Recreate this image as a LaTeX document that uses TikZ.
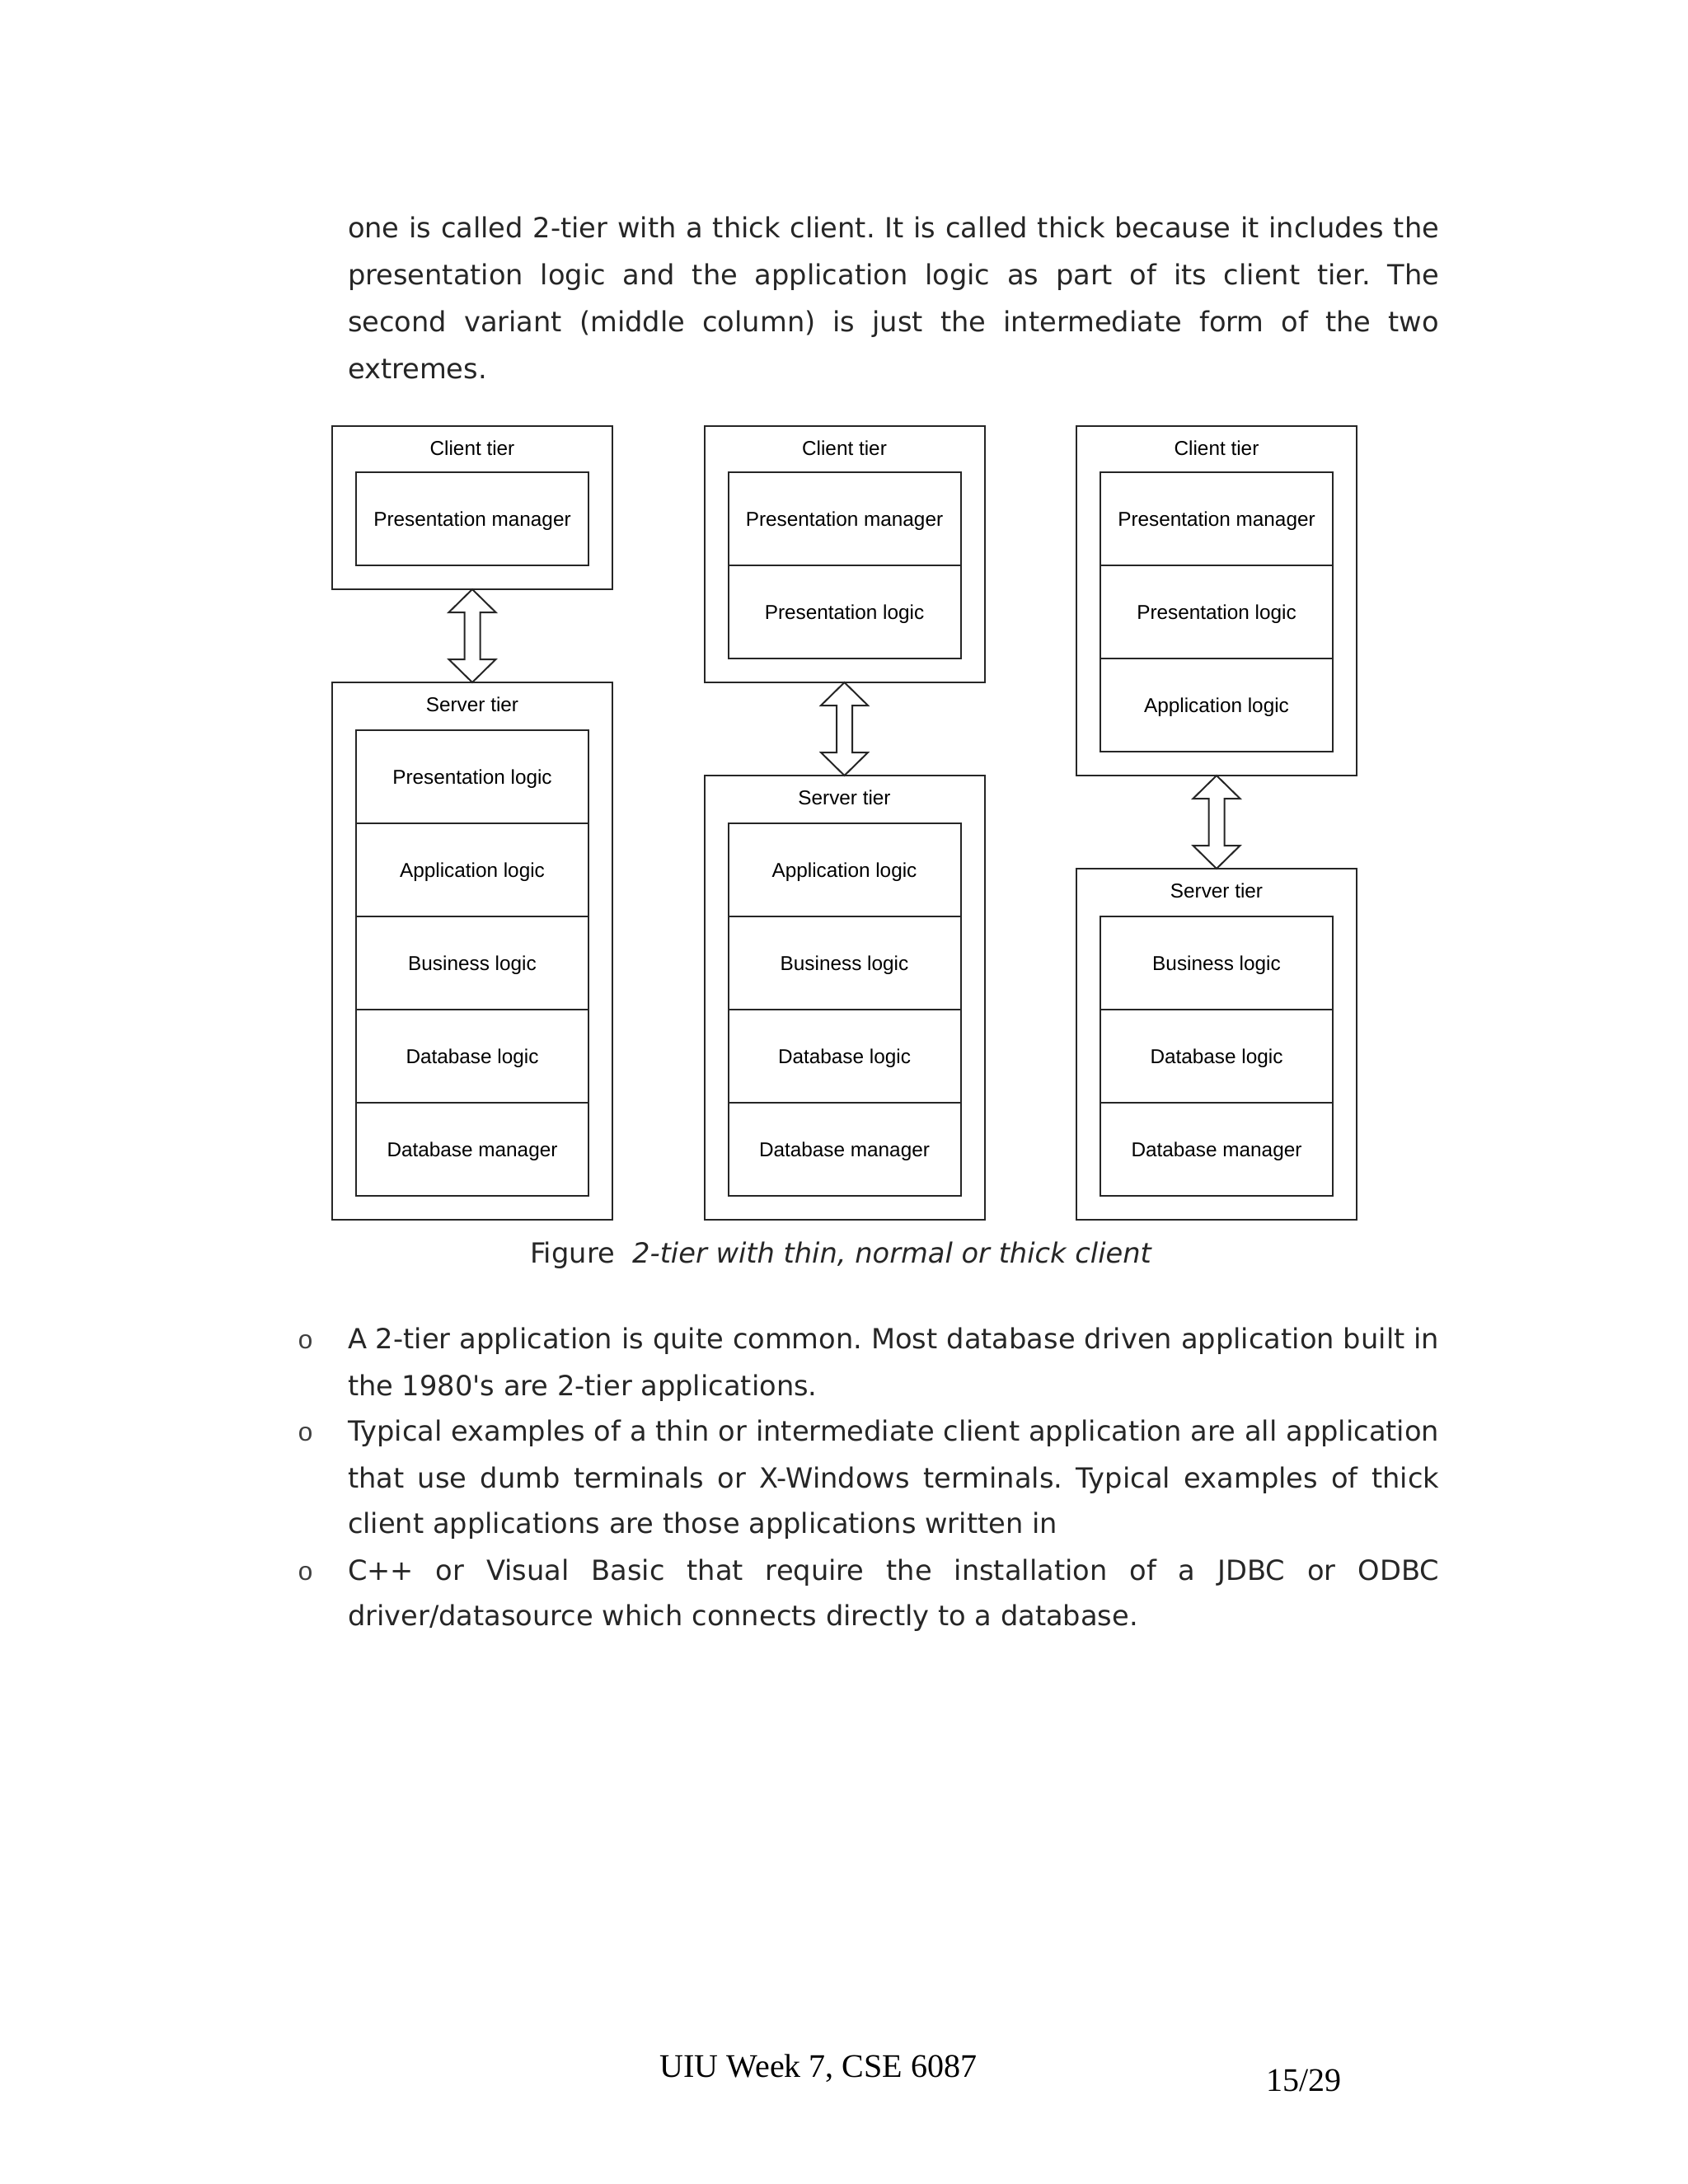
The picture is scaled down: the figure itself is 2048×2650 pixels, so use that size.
\documentclass[tikz,border=0pt]{standalone}
\usepackage{fontspec}
\setmainfont{DejaVu Sans}
\newfontfamily\boxfont{Liberation Sans}
\newfontfamily\footfont{Liberation Serif}
\newfontfamily\bulfont{Liberation Mono}
\frenchspacing
\begin{document}
\begin{tikzpicture}[x=0.3pt,y=-0.3pt,
  txt/.style={anchor=base west,inner sep=0,outer sep=0,text=black!85,font=\fontsize{10.1pt}{12pt}\selectfont\frenchspacing},
  bul/.style={anchor=base west,inner sep=0,outer sep=0,text=black!75,font=\bulfont\fontsize{9.5pt}{12pt}\selectfont},
  outerbox/.style={draw=black!85,line width=0.6pt,minimum width=102pt,inner sep=0,outer sep=0,anchor=north west},
  innerbox/.style={draw=black!85,line width=0.6pt,minimum width=84.6pt,minimum height=33.9pt,inner sep=0,outer sep=0,anchor=north west,
     text height=5.2pt,text depth=0pt,font=\boxfont\fontsize{7.3pt}{9pt}\selectfont},
  tierlabel/.style={anchor=base,inner sep=0,font=\boxfont\fontsize{7.3pt}{9pt}\selectfont},
  dblarrow/.style={draw=black!85,line width=0.6pt,fill=white,line join=miter}
]
\useasboundingbox[fill=white] (0,0) rectangle (2048,2650);

% ---------- paragraph ----------
\newcommand{\jl}[1]{\makebox[397.2pt][s]{#1}}
\node[txt] (p1) at (422,288) {\jl{one is called 2-tier with a thick client. It is called thick because it includes the}};
\node[txt] (p2) at (422,345) {\jl{presentation logic and the application logic as part of its client tier. The}};
\node[txt] (p3) at (422,402) {\jl{second variant (middle column) is just the intermediate form of the two}};
\node[txt] (p4) at (422,459) {extremes.};

% ---------- column 1 ----------
\node[outerbox,minimum height=59.4pt] (c1) at (403,517) {};
\node[tierlabel] (c1l) at (573,552) {Client tier};
\node[innerbox] (c1a) at (432,573) {Presentation manager};
\node[outerbox,minimum height=195.6pt] (s1) at (403,828) {};
\node[tierlabel] (s1l) at (573,863) {Server tier};
\node[innerbox] (s1a) at (432,886) {Presentation logic};
\node[innerbox] (s1b) at (432,999) {Application logic};
\node[innerbox] (s1c) at (432,1112) {Business logic};
\node[innerbox] (s1d) at (432,1225) {Database logic};
\node[innerbox] (s1e) at (432,1338) {Database manager};

% ---------- column 2 ----------
\node[outerbox,minimum height=93.3pt] (c2) at (854.5,517) {};
\node[tierlabel] (c2l) at (1024.5,552) {Client tier};
\node[innerbox] (c2a) at (883.5,573) {Presentation manager};
\node[innerbox] (c2b) at (883.5,686) {Presentation logic};
\node[outerbox,minimum height=161.7pt] (s2) at (854.5,941) {};
\node[tierlabel] (s2l) at (1024.5,976) {Server tier};
\node[innerbox] (s2a) at (883.5,999) {Application logic};
\node[innerbox] (s2b) at (883.5,1112) {Business logic};
\node[innerbox] (s2c) at (883.5,1225) {Database logic};
\node[innerbox] (s2d) at (883.5,1338) {Database manager};

% ---------- column 3 ----------
\node[outerbox,minimum height=127.2pt] (c3) at (1306,517) {};
\node[tierlabel] (c3l) at (1476,552) {Client tier};
\node[innerbox] (c3a) at (1335,573) {Presentation manager};
\node[innerbox] (c3b) at (1335,686) {Presentation logic};
\node[innerbox] (c3c) at (1335,799) {Application logic};
\node[outerbox,minimum height=127.8pt] (s3) at (1306,1054) {};
\node[tierlabel] (s3l) at (1476,1089) {Server tier};
\node[innerbox] (s3a) at (1335,1112) {Business logic};
\node[innerbox] (s3b) at (1335,1225) {Database logic};
\node[innerbox] (s3c) at (1335,1338) {Database manager};

% ---------- double arrows ----------
\foreach \c/\s in {c1/s1,c2/s2,c3/s3}{
  \draw[dblarrow] (\c.south) -- ++(28.5,28) -- ++(-19,0) -- ++(0,57) -- ++(19,0)
     -- (\s.north) -- ++(-28.5,-28) -- ++(19,0) -- ++(0,-57) -- ++(-19,0) -- cycle;
}

% ---------- caption ----------
\node[txt] (cap) at (643,1532) {Figure\ \ \textit{2-tier with thin, normal or thick client}};

% ---------- bullets ----------
\node[bul] (b1) at (361,1636) {o};
\node[txt] (b1a) at (422,1636) {\jl{A 2-tier application is quite common. Most database driven application built in}};
\node[txt] (b1b) at (422,1693) {the 1980\textquotesingle s are 2-tier applications.};
\node[bul] (b2) at (361,1748) {o};
\node[txt] (b2a) at (422,1748) {\jl{Typical examples of a thin or intermediate client application are all application}};
\node[txt] (b2b) at (422,1805) {\jl{that use dumb terminals or X-Windows terminals. Typical examples of thick}};
\node[txt] (b2c) at (422,1860) {client applications are those applications written in};
\node[bul] (b3) at (361,1917) {o};
\node[txt] (b3a) at (422,1917) {\jl{C++ or Visual Basic that require the installation of a JDBC or ODBC}};
\node[txt] (b3b) at (422,1972) {driver/datasource which connects directly to a database.};

% ---------- footer ----------
\node[anchor=base west,inner sep=0,font=\footfont\fontsize{12pt}{14pt}\selectfont] (f1) at (800,2520) {UIU Week 7, CSE 6087};
\node[anchor=base west,inner sep=0,font=\footfont\fontsize{12pt}{14pt}\selectfont] (f2) at (1536,2537) {15/29};
\end{tikzpicture}
\end{document}
